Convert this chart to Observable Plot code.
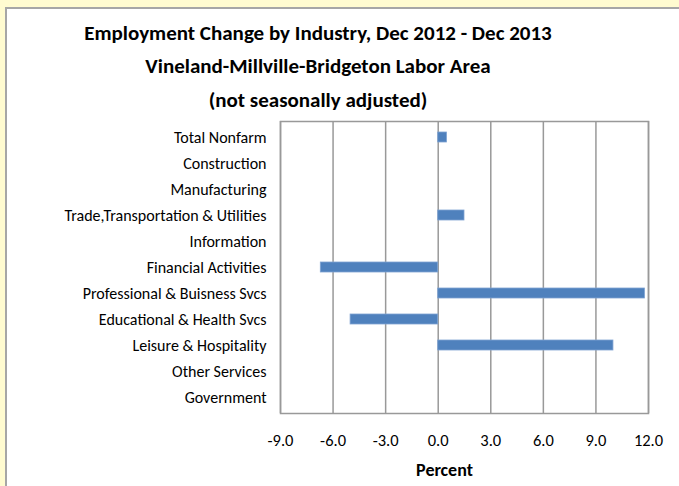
<!DOCTYPE html>
<html>
<head>
<meta charset="utf-8">
<script src="https://cdn.jsdelivr.net/npm/d3@7"></script>
<script src="https://cdn.jsdelivr.net/npm/@observablehq/plot@0.6"></script>
<style>
  html, body { margin: 0; padding: 0; }
  body { width: 679px; height: 486px; background: #FFFBD0; position: relative; overflow: hidden;
         font-family: Carlito, Lato, sans-serif; }
  #panel { position: absolute; left: 5px; top: 7px; width: 700px; height: 500px; background: #fff;
           border-left: 2px solid #a6a6a6; border-top: 2px solid #a6a6a6; }
  .t { position: absolute; left: 0; width: 636px; text-align: center; font-weight: bold; font-size: 21px; color: #000; line-height: 26px; }
  #chart { position: absolute; left: 0; top: 110px; }
</style>
</head>
<body>
<div id="panel"></div>
<div class="t" style="top:20px">Employment Change by Industry, Dec 2012 - Dec 2013</div>
<div class="t" style="top:53px">Vineland-Millville-Bridgeton Labor Area</div>
<div class="t" style="top:87px">(not seasonally adjusted)</div>
<div id="chart"></div>
<script>
const industries = ["Total Nonfarm", "Construction", "Manufacturing", "Trade,Transportation & Utilities",
  "Information", "Financial Activities", "Professional & Buisness Svcs", "Educational & Health Svcs",
  "Leisure & Hospitality", "Other Services", "Government"];
const changes = [0.5, null, null, 1.5, null, -6.7, 11.8, -5.0, 10.0, null, null];
const xTicks = [-9, -6, -3, 0, 3, 6, 9, 12];

const data = industries.map((name, i) => ({name, value: changes[i]})).filter(d => d.value != null);

const chart = Plot.plot({
  width: 679,
  height: 376,
  marginLeft: 280,
  marginRight: 31,
  marginTop: 11,
  marginBottom: 73,
  style: {fontFamily: 'Carlito, Lato, sans-serif', background: "transparent", color: "#000"},
  x: {domain: [-9, 12], ticks: xTicks, tickFormat: d => d.toFixed(1)},
  y: {domain: industries, paddingInner: 0.62, paddingOuter: 0.31},
  marks: [
    Plot.ruleX(xTicks, {stroke: "#999", strokeWidth: 1.5}),
    Plot.barX(data, {y: "name", x1: 0, x2: "value", fill: "#4F81BD", stroke: "#7FA3D3", strokeWidth: 0.8}),
    Plot.frame({stroke: "#999", strokeWidth: 1.5}),
    Plot.axisX({ticks: xTicks, tickFormat: d => d.toFixed(1), tickSize: 0, tickPadding: 21, fontSize: 16.5,
      label: "Percent", labelAnchor: "center", labelArrow: "none", labelOffset: 62}),
    Plot.axisY({tickSize: 0, tickPadding: 14, fontSize: 16, label: null})
  ]
});
document.getElementById("chart").appendChild(chart);
d3.select(chart).selectAll("[aria-label='x-axis label'] text").attr("font-weight", "bold").attr("font-size", 18).attr("dx", -20);
</script>
</body>
</html>
